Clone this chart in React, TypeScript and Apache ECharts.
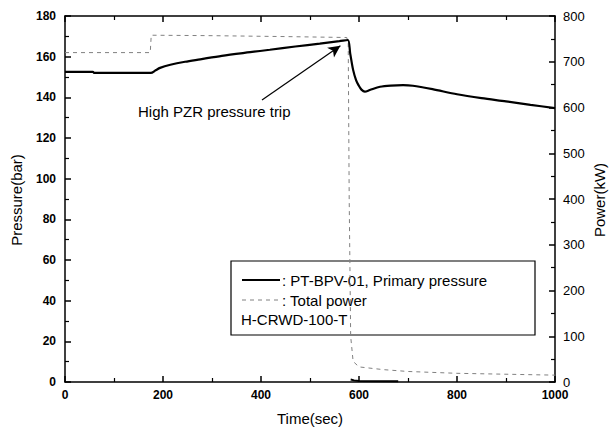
import React, { useEffect, useRef } from "react";
import * as echarts from "echarts";

// Time (sec) and primary pressure (bar)
const pressureTime = [0, 57, 60, 175, 185, 194, 215, 245, 276, 320, 378, 418, 470, 520, 560, 577, 582, 588, 594, 599, 605, 612, 622, 643, 665, 690, 710, 750, 800, 850, 900, 950, 1000];
const pressureValues = [152.5, 152.5, 152, 152, 153.3, 154.5, 156, 157.5, 158.7, 160.4, 162.2, 163.4, 165, 166.4, 167.6, 168.2, 161.6, 153.5, 148.5, 146, 143.8, 142.8, 143.6, 145.2, 145.8, 146, 145.7, 144, 141.5, 139.6, 138, 136.3, 134.7];

// Time (sec) and total power (kW)
const powerTime = [0, 174, 176, 300, 450, 575, 578, 580, 583, 588, 600, 650, 700, 800, 900, 1000];
const powerValues = [720, 720, 758, 757, 755, 753, 740, 400, 100, 45, 33, 27, 23, 19, 17, 15];

// Short trace near zero at the bottom axis
const lowTraceTime = [583, 590, 600, 680];
const lowTraceValues = [1.2, 0.8, 0.5, 0.4];

// Annotation arrow (time, pressure)
const arrowTime = [402, 562];
const arrowPressure = [138.7, 165.4];

const FONT = "Liberation Sans, Arial, sans-serif";

function axisParts() {
  return {
    axisLine: { show: true, onZero: false, lineStyle: { color: "#000", width: 1.5 } },
    axisTick: { show: true, inside: true, length: 6, lineStyle: { color: "#000", width: 1.5 } },
    minorTick: { show: true, splitNumber: 2, length: 4, lineStyle: { color: "#000", width: 1.2 } },
    splitLine: { show: false },
  };
}

export default function App() {
  const ref = useRef<HTMLDivElement>(null);
  useEffect(() => {
    if (!ref.current) return;
    const chart = echarts.init(ref.current, null, { renderer: "svg" });
    chart.setOption({
      animation: false,
      grid: { left: 65, right: 57, top: 16, bottom: 51 },
      xAxis: [
        {
          type: "value", min: 0, max: 1000, interval: 200, position: "bottom",
          ...axisParts(),
          axisLabel: { color: "#000", fontWeight: "bold", fontSize: 12, margin: 7, formatter: (v: number) => String(v) },
        },
        {
          type: "value", min: 0, max: 1000, interval: 200, position: "top",
          ...axisParts(),
          axisLabel: { show: false },
        },
      ],
      yAxis: [
        {
          type: "value", min: 0, max: 180, interval: 20, position: "left",
          ...axisParts(),
          axisLabel: { color: "#000", fontWeight: "bold", fontSize: 12, margin: 9, formatter: (v: number) => String(v) },
        },
        {
          type: "value", min: 0, max: 800, interval: 100, position: "right",
          ...axisParts(),
          axisLabel: { color: "#000", fontSize: 13, margin: 8, formatter: (v: number) => String(v) },
        },
      ],
      series: [
        {
          name: "Total power", type: "line", yAxisIndex: 1, xAxisIndex: 0,
          data: powerTime.map((t, i) => [t, powerValues[i]]),
          showSymbol: false, symbol: "none",
          lineStyle: { color: "#808080", width: 1, type: [4, 4] },
          z: 2,
        },
        {
          name: "PT-BPV-01, Primary pressure", type: "line", yAxisIndex: 0, xAxisIndex: 0,
          data: pressureTime.map((t, i) => [t, pressureValues[i]]),
          showSymbol: false, symbol: "none", smooth: 0.3,
          lineStyle: { color: "#000", width: 2.2 },
          z: 3,
        },
        {
          name: "arrow", type: "line", yAxisIndex: 0, xAxisIndex: 0,
          data: [
            { value: [arrowTime[0], arrowPressure[0]], symbol: "none" },
            { value: [arrowTime[1], arrowPressure[1]], symbol: "arrow", symbolSize: [9, 12], symbolRotate: -55 },
          ],
          showSymbol: true,
          itemStyle: { color: "#000" },
          lineStyle: { color: "#000", width: 1.2 },
          z: 4,
        },
        {
          name: "low trace", type: "line", yAxisIndex: 0, xAxisIndex: 0,
          data: lowTraceTime.map((t, i) => [t, lowTraceValues[i]]),
          showSymbol: false, symbol: "none",
          lineStyle: { color: "#000", width: 2 },
          z: 3,
        },
      ],
      graphic: [
        {
          type: "text", x: 16, y: 200, rotation: Math.PI / 2, z: 10,
          style: { text: "Pressure(bar)", font: `15px ${FONT}`, fill: "#000", align: "center", verticalAlign: "middle" },
        },
        {
          type: "text", x: 599, y: 200, rotation: Math.PI / 2, z: 10,
          style: { text: "Power(kW)", font: `15px ${FONT}`, fill: "#000", align: "center", verticalAlign: "middle" },
        },
        {
          type: "text", x: 310, y: 418, z: 10,
          style: { text: "Time(sec)", font: `15px ${FONT}`, fill: "#000", align: "center", verticalAlign: "middle" },
        },
        {
          type: "text", x: 138, y: 111, z: 10,
          style: { text: "High PZR pressure trip", font: `15px ${FONT}`, fill: "#000", verticalAlign: "middle" },
        },
        {
          type: "group", x: 231, y: 261, z: 20,
          children: [
            { type: "rect", shape: { x: 0, y: 0, width: 304, height: 74 }, style: { fill: "#fff", stroke: "#000", lineWidth: 1.2 } },
            { type: "line", shape: { x1: 11, y1: 19, x2: 49, y2: 19 }, style: { stroke: "#000", lineWidth: 2 } },
            { type: "text", x: 51, y: 19, style: { text: ": PT-BPV-01, Primary pressure", font: `15px ${FONT}`, fill: "#000", verticalAlign: "middle" } },
            { type: "line", shape: { x1: 11, y1: 39, x2: 49, y2: 39 }, style: { stroke: "#808080", lineWidth: 1, lineDash: [4, 4] } },
            { type: "text", x: 51, y: 39, style: { text: ": Total power", font: `15px ${FONT}`, fill: "#000", verticalAlign: "middle" } },
            { type: "text", x: 10, y: 58, style: { text: "H-CRWD-100-T", font: `15px ${FONT}`, fill: "#000", verticalAlign: "middle" } },
          ],
        },
      ],
    });
    return () => chart.dispose();
  }, []);
  return <div ref={ref} style={{ width: 612, height: 433, position: "absolute", left: 0, top: 0 }} />;
}
